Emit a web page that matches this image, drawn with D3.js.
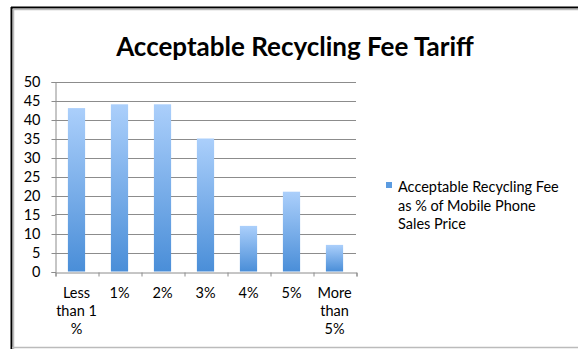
<!DOCTYPE html>
<html><head><meta charset="utf-8">
<script src="https://cdn.jsdelivr.net/npm/d3@7"></script>
<style>body{margin:0;background:#fff}svg{display:block}</style>
</head><body>
<script>
const categories = [["Less","than 1","%"],["1%"],["2%"],["3%"],["4%"],["5%"],["More","than","5%"]];
const values = [43, 44, 44, 35, 12, 21, 7];
const yTicks = [0,5,10,15,20,25,30,35,40,45,50];
const seriesName = ["Acceptable Recycling Fee","as % of Mobile Phone","Sales Price"];
const title = "Acceptable Recycling Fee Tariff";

const W = 578, H = 349;
const svg = d3.select("body").append("svg").attr("width", W).attr("height", H);
const font = "Lato, 'Open Sans', sans-serif";
const fs = 14.5;

const defs = svg.append("defs");
const g = defs.append("linearGradient").attr("id","bg").attr("x1",0).attr("y1",0).attr("x2",0).attr("y2",1);
g.append("stop").attr("offset","0%").attr("stop-color","#abcffb");
g.append("stop").attr("offset","100%").attr("stop-color","#4a8ed8");

// frame
svg.append("line").attr("x1",11).attr("x2",W).attr("y1",7.5).attr("y2",7.5).attr("stroke","#000").attr("stroke-width",2);
svg.append("line").attr("x1",13).attr("x2",W).attr("y1",9.5).attr("y2",9.5).attr("stroke","#bbb").attr("stroke-width",1.5);
svg.append("line").attr("x1",11.5).attr("x2",11.5).attr("y1",7).attr("y2",H).attr("stroke","#000").attr("stroke-width",2);
svg.append("line").attr("x1",13.5).attr("x2",13.5).attr("y1",9).attr("y2",H).attr("stroke","#bbb").attr("stroke-width",1.5);
svg.append("line").attr("x1",12).attr("x2",W).attr("y1",347.5).attr("y2",347.5).attr("stroke","#bbb").attr("stroke-width",1.5);

const x = d3.scaleBand().domain(d3.range(categories.length)).range([55, 356]).paddingInner(0.6).paddingOuter(0.3);
const y = d3.scaleLinear().domain([0,50]).range([271.5, 81.5]);

// gridlines
svg.append("g").selectAll("line").data(yTicks.filter(d=>d>0)).join("line")
  .attr("x1",55).attr("x2",356).attr("y1",d=>Math.round(y(d))+0.5).attr("y2",d=>Math.round(y(d))+0.5)
  .attr("stroke","#8c8c8c").attr("stroke-width",1);

// bars
svg.append("g").selectAll("rect").data(values).join("rect")
  .attr("x",(d,i)=>x(i)).attr("width",x.bandwidth())
  .attr("y",d=>y(d)).attr("height",d=>y(0)-y(d))
  .attr("fill","url(#bg)");

// y axis
const ya = svg.append("g").attr("transform","translate(55.5,0.5)")
  .call(d3.axisLeft(y).tickValues(yTicks).tickSize(4).tickPadding(11));
ya.select(".domain").attr("stroke","#8c8c8c");
ya.selectAll(".tick line").attr("stroke","#8c8c8c");
ya.selectAll("text").attr("font-family",font).attr("font-size",fs).attr("fill","#000");

// x axis
const xb = d3.scaleLinear().domain([0,categories.length]).range([55,356]);
const xa = svg.append("g").attr("transform",`translate(0.5,${Math.round(y(0))+0.5})`)
  .call(d3.axisBottom(xb).tickValues(d3.range(categories.length+1)).tickSize(4).tickFormat(""));
xa.select(".domain").attr("stroke","#8c8c8c");
xa.selectAll(".tick line").attr("stroke","#8c8c8c");

const lab = svg.append("g");
categories.forEach((lines,i)=>{
  const cx = x(i) + x.bandwidth()/2;
  const t = lab.append("text").attr("text-anchor","middle").attr("font-family",font).attr("font-size",fs).attr("fill","#000");
  lines.forEach((s,j)=>t.append("tspan").attr("x",cx).attr("y",298+j*18).text(s));
});

// title
svg.append("text").attr("x",295).attr("y",56).attr("text-anchor","middle")
  .attr("font-family",font).attr("font-weight","bold").attr("font-size",26).attr("fill","#000").text(title);

// legend
svg.append("rect").attr("x",386).attr("y",182).attr("width",6).attr("height",6).attr("fill","#5b9be0");
const lt = svg.append("text").attr("font-family",font).attr("font-size",fs).attr("fill","#000");
seriesName.forEach((s,j)=>lt.append("tspan").attr("x",398).attr("y",192+j*18.5).text(s));
</script>
</body></html>
